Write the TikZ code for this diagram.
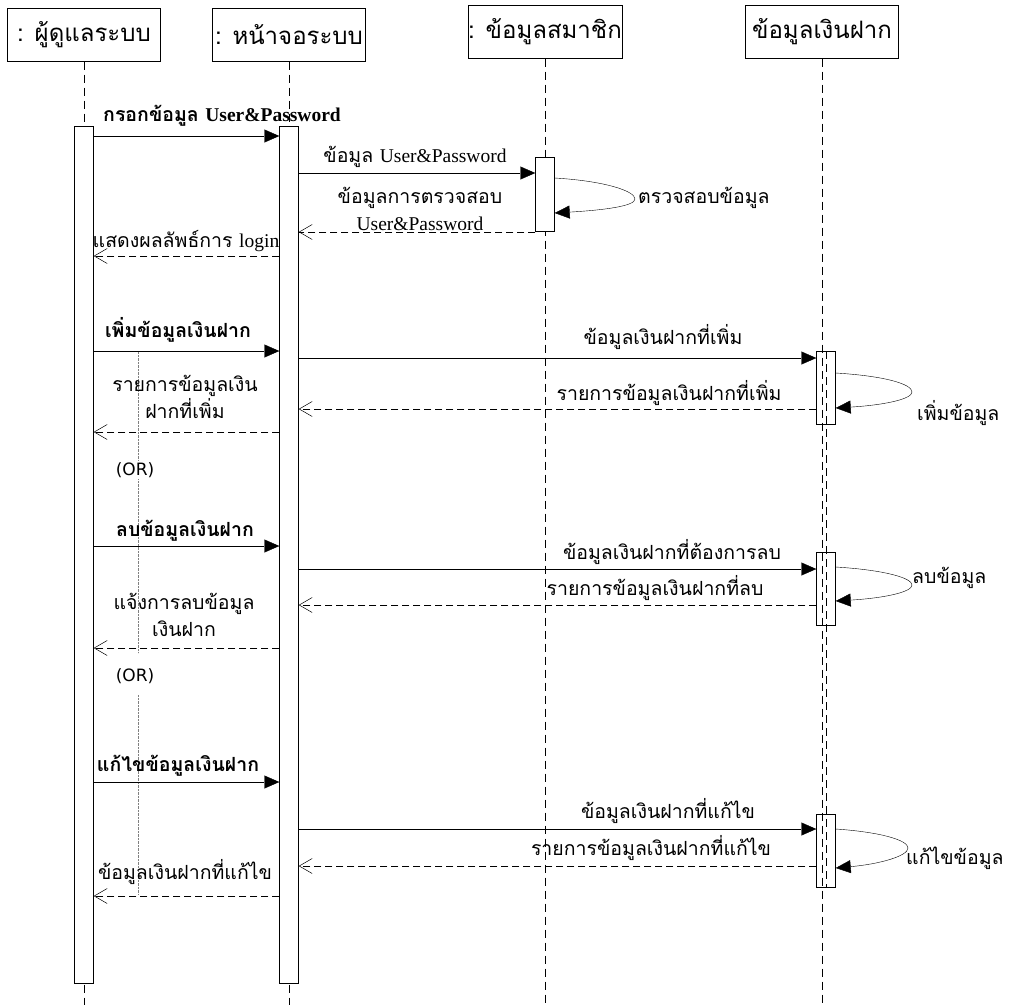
\documentclass[tikz,border=0pt]{standalone}
\usepackage{fontspec}
\setmainfont[Script=Thai]{Loma}
\newfontfamily\latin{Liberation Serif}
\newfontfamily\orfont{DejaVu Sans}
\usetikzlibrary{arrows.meta}

\begin{document}
\begin{tikzpicture}[x=1pt,y=-1pt,
  head/.style={draw,minimum width=153,minimum height=53,inner sep=0pt,font=\fontsize{24}{28}\selectfont},
  bar/.style={draw,fill=white,minimum width=19,inner sep=0pt,anchor=north},
  life/.style={dash pattern=on 8pt off 5pt},
  call/.style={-{Triangle[length=15pt,width=13pt]}},
  reply/.style={dash pattern=on 7pt off 4pt,-{Straight Barb[length=13pt,width=15pt,line width=0.5pt]}},
  lbl/.style={inner sep=0pt,font=\fontsize{19.5}{27}\selectfont,align=center},
  boldlbl/.style={lbl,font=\fontsize{19.5}{27}\selectfont\bfseries},
  orlbl/.style={inner sep=1pt,font=\orfont\fontsize{17}{20}\selectfont}]
\useasboundingbox (0,0) rectangle (1009,1005);
\foreach \who/\x/\y/\txt in {admin/84/35/{: ผู้ดูแลระบบ},screen/289/35/{: หน้าจอระบบ},member/545/32/{: ข้อมูลสมาชิก},deposit/822/32/{ข้อมูลเงินฝาก}}
{ \node[head] (\who) at (\x,\y) {\txt};
  \coordinate (\who end) at (\x,1005);
  \draw[life] (\who) -- (\who end);}
\node[bar,minimum height=857] (adminbar) at (84,126) {};
\node[bar,minimum height=857] (screenbar) at (289,126) {};
\node[bar,minimum height=74] (memberbar) at (545,157) {};
\node[bar,fill=none,minimum height=73] (addbar) at (826,351) {};
\node[bar,fill=none,minimum height=73] (delbar) at (826,552) {};
\node[bar,fill=none,minimum height=73] (editbar) at (826,814) {};
\draw[life] (addbar.north) -- (editbar.south);
\coordinate (ortop) at (138,352);
\coordinate (ormid) at (138,653);
\coordinate (orgo) at (138,695);
\coordinate (orend) at (138,895);
\draw[densely dotted,gray] (ortop) -- (ormid) (orgo) -- (orend);

\draw[call] (adminbar.east |- 0,136) -- (screenbar.west |- 0,136);
\node[boldlbl] (login) at (222,116) {กรอกข้อมูล {\latin User\&Password}};
\draw[call] (screenbar.east |- 0,173) -- (memberbar.west |- 0,173);
\node[lbl] (send) at (415,157) {ข้อมูล {\latin User\&Password}};
\draw[call] (memberbar.east |- 0,178) .. controls (605,181) and (635,191) .. (635,199) .. controls (635,206) and (605,210) .. (memberbar.east |- 0,213);
\node[lbl,anchor=west] (check) at (638,198) {ตรวจสอบข้อมูล};
\draw[reply] (memberbar.west |- 0,232) -- (screenbar.east |- 0,232);
\node[lbl] (checked) at (420,209) {ข้อมูลการตรวจสอบ\\{\latin User\&Password}};
\draw[reply] (screenbar.west |- 0,256) -- (adminbar.east |- 0,256);
\node[lbl] (result) at (186,241) {แสดงผลลัพธ์การ {\latin login}};

\draw[call] (adminbar.east |- 0,351) -- (screenbar.west |- 0,351);
\node[boldlbl] (add) at (178,330) {เพิ่มข้อมูลเงินฝาก};
\draw[call] (screenbar.east |- 0,358) -- (addbar.west |- 0,358);
\node[lbl] (addsend) at (663,337) {ข้อมูลเงินฝากที่เพิ่ม};
\draw[call] (addbar.east |- 0,373) .. controls (885,376) and (912,384) .. (912,392) .. controls (912,399) and (885,405) .. (addbar.east |- 0,408);
\node[lbl,anchor=west] (addself) at (917,413) {เพิ่มข้อมูล};
\draw[reply] (addbar.west |- 0,409) -- (screenbar.east |- 0,409);
\node[lbl] (addlist) at (669,393) {รายการข้อมูลเงินฝากที่เพิ่ม};
\draw[reply] (screenbar.west |- 0,432) -- (adminbar.east |- 0,432);
\node[lbl] (addback) at (185,397) {รายการข้อมูลเงิน\\ฝากที่เพิ่ม};
\node[orlbl,fill=white] (orA) at (135,470) {(OR)};

\draw[call] (adminbar.east |- 0,546) -- (screenbar.west |- 0,546);
\node[boldlbl] (del) at (185,531) {ลบข้อมูลเงินฝาก};
\draw[call] (screenbar.east |- 0,569) -- (delbar.west |- 0,569);
\node[lbl] (delsend) at (672,552) {ข้อมูลเงินฝากที่ต้องการลบ};
\draw[call] (delbar.east |- 0,567) .. controls (885,570) and (912,578) .. (912,585) .. controls (912,592) and (885,598) .. (delbar.east |- 0,601);
\node[lbl,anchor=west] (delself) at (912,578) {ลบข้อมูล};
\draw[reply] (delbar.west |- 0,605) -- (screenbar.east |- 0,605);
\node[lbl] (dellist) at (655,588) {รายการข้อมูลเงินฝากที่ลบ};
\draw[reply] (screenbar.west |- 0,648) -- (adminbar.east |- 0,648);
\node[lbl] (delback) at (184,615) {แจ้งการลบข้อมูล\\เงินฝาก};
\node[orlbl] (orB) at (135,676) {(OR)};

\draw[call] (adminbar.east |- 0,782) -- (screenbar.west |- 0,782);
\node[boldlbl] (edit) at (178,766) {แก้ไขข้อมูลเงินฝาก};
\draw[call] (screenbar.east |- 0,829) -- (editbar.west |- 0,829);
\node[lbl] (editsend) at (668,811) {ข้อมูลเงินฝากที่แก้ไข};
\draw[call] (editbar.east |- 0,829) .. controls (880,832) and (908,840) .. (908,848) .. controls (908,856) and (880,864) .. (editbar.east |- 0,868);
\node[lbl,anchor=west] (editself) at (906,858) {แก้ไขข้อมูล};
\draw[reply] (editbar.west |- 0,866) -- (screenbar.east |- 0,866);
\node[lbl] (editlist) at (651,848) {รายการข้อมูลเงินฝากที่แก้ไข};
\draw[reply] (screenbar.west |- 0,896) -- (adminbar.east |- 0,896);
\node[lbl] (editback) at (185,872) {ข้อมูลเงินฝากที่แก้ไข};
\end{tikzpicture}
\end{document}
